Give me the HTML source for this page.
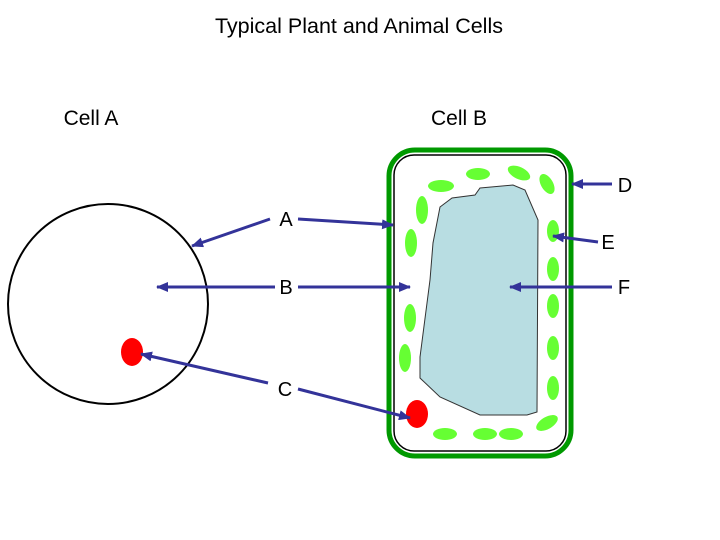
<!DOCTYPE html>
<html><head><meta charset="utf-8"><style>body{margin:0;background:#fff}svg{display:block}</style></head><body>
<svg width="720" height="540" xmlns="http://www.w3.org/2000/svg" font-family="Liberation Sans, sans-serif">
<defs><marker id="ar" markerWidth="12" markerHeight="10" refX="11" refY="5" orient="auto" markerUnits="userSpaceOnUse"><path d="M0,0 L12,5 L0,10 Z" fill="#333399"/></marker></defs>
<text x="359" y="33" font-size="21.5" text-anchor="middle">Typical Plant and Animal Cells</text>
<text x="91" y="125" font-size="21" text-anchor="middle">Cell A</text>
<text x="459" y="125" font-size="21" text-anchor="middle">Cell B</text>
<circle cx="108" cy="304" r="100" fill="none" stroke="#000" stroke-width="2"/>
<ellipse cx="132" cy="352" rx="11" ry="14" fill="#f00"/>
<rect x="389" y="150" width="182" height="306" rx="26" fill="none" stroke="#009900" stroke-width="5"/>
<rect x="394" y="155" width="172" height="296" rx="20" fill="#fff" stroke="#000" stroke-width="1.5"/>
<path d="M480,188 L513,185 L525,190 L538,220 L537,412 L527,415 L480,415 L440,397 L420,378 L420,357 L430,280 L433,243 L440,207 L452,198 L475,195 Z" fill="#b8dde2" stroke="#333" stroke-width="1"/>
<g fill="#66ff33">
<ellipse cx="441" cy="186" rx="13" ry="6"/>
<ellipse cx="478" cy="174" rx="12" ry="6"/>
<ellipse cx="519" cy="173" rx="12" ry="6" transform="rotate(25 519 173)"/>
<ellipse cx="547" cy="184" rx="6" ry="11" transform="rotate(-30 547 184)"/>
<ellipse cx="422" cy="210" rx="6" ry="14"/>
<ellipse cx="411" cy="243" rx="6" ry="14"/>
<ellipse cx="410" cy="318" rx="6" ry="14"/>
<ellipse cx="405" cy="358" rx="6" ry="14"/>
<ellipse cx="553" cy="231" rx="6" ry="11"/>
<ellipse cx="553" cy="269" rx="6" ry="12"/>
<ellipse cx="553" cy="306" rx="6" ry="12"/>
<ellipse cx="553" cy="348" rx="6" ry="12"/>
<ellipse cx="553" cy="388" rx="6" ry="12"/>
<ellipse cx="547" cy="423" rx="12" ry="6" transform="rotate(-30 547 423)"/>
<ellipse cx="511" cy="434" rx="12" ry="6"/>
<ellipse cx="485" cy="434" rx="12" ry="6"/>
<ellipse cx="445" cy="434" rx="12" ry="6"/>
</g>
<ellipse cx="417" cy="414" rx="11" ry="14" fill="#f00"/>
<g stroke="#333399" stroke-width="3" marker-end="url(#ar)">
<line x1="270" y1="219" x2="192" y2="246"/>
<line x1="298" y1="219" x2="393" y2="225"/>
<line x1="275" y1="287" x2="157" y2="287"/>
<line x1="298" y1="287" x2="410" y2="287"/>
<line x1="268" y1="383" x2="141" y2="354"/>
<line x1="298" y1="389" x2="410" y2="418"/>
<line x1="612" y1="184" x2="572" y2="184"/>
<line x1="598" y1="242" x2="553" y2="236"/>
<line x1="612" y1="287" x2="510" y2="287"/>
</g>
<g font-size="20" text-anchor="middle">
<text x="286" y="226">A</text>
<text x="286" y="294">B</text>
<text x="285" y="396">C</text>
<text x="625" y="192">D</text>
<text x="608" y="249">E</text>
<text x="624" y="294">F</text>
</g>
</svg>
</body></html>
